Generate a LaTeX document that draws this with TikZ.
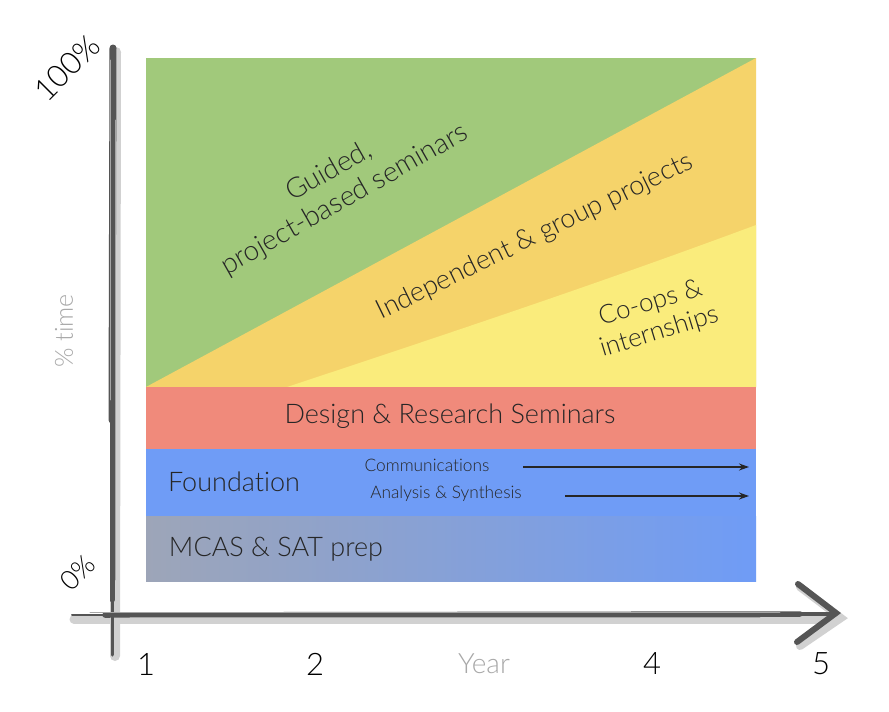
\documentclass[tikz,border=0pt]{standalone}
\usepackage{fontspec}
\IfFontExistsTF{Lato Light}{\setmainfont{Lato Light}[Ligatures={NoCommon,NoDiscretionary}]}{\setmainfont{Lato}}
\usetikzlibrary{arrows.meta}
\definecolor{bandgreen}{HTML}{A1C97B}
\definecolor{bandorange}{HTML}{F5D36A}
\definecolor{bandyellow}{HTML}{FAEC7C}
\definecolor{bandred}{HTML}{F08A7B}
\definecolor{bandblue}{HTML}{6F9CF6}
\definecolor{bandgray}{HTML}{9DA5B8}
\definecolor{ink}{HTML}{262626}
\definecolor{brush}{HTML}{555555}
\definecolor{axislabel}{HTML}{A8A8A8}
\tikzset{
  lbl/.style={text=ink, inner sep=0pt, font=\fontsize{26}{30}\selectfont},
  big/.style={lbl, font=\fontsize{27}{32}\selectfont},
  small/.style={lbl, font=\fontsize{17.3}{20}\selectfont},
  tick/.style={text=black, inner sep=0pt, font=\fontsize{31}{34}\selectfont},
  flow/.style={draw=ink, line width=1.6pt, -{Stealth[length=10pt,width=7pt]}},
  brushshadow/.style={draw=black!18, line cap=round},
  brushstroke/.style={draw=brush, line cap=round},
  brushgrain/.style={draw=black!35, line cap=round, line width=0.8pt},
}
\begin{document}
\begin{tikzpicture}[x=1pt,y=-1pt]
\path[use as bounding box, fill=white] (0,0) rectangle (889,712);

% ---- stacked bands ----
\fill[bandgreen] (146,58) rectangle (756,387);
\fill[bandorange] (146,387) -- (756,58) -- (756,387) -- cycle;
\fill[bandyellow] (287,387) .. controls (450,333) and (600,283) .. (756,225) -- (756,387) -- cycle;
\fill[bandred] (146,387) rectangle (756,449);
\fill[bandblue] (146,449) rectangle (756,516);
\shade[left color=bandgray, right color=bandblue] (146,516) rectangle (756,581);

% ---- brush-stroke axes ----
\draw[brushshadow, line width=10pt] (116,52) -- (115,656);
\draw[brushshadow, line width=9pt] (74,619) -- (835,619);
\draw[brushshadow, line width=8pt] (800,587) -- (841,618) -- (800,646);
\draw[brushstroke, line width=7pt] (113,48) -- (112,420);
\draw[brushstroke, line width=5pt] (112,420) -- (112,600);
\draw[brushstroke, line width=3pt] (112,600) -- (112,655);
\draw[brushstroke, line width=2pt] (72,615) -- (110,615);
\draw[brushstroke, line width=5.5pt] (105,615) -- (800,614);
\draw[brushstroke, line width=4pt] (790,614) -- (836,614);
\draw[brushstroke, line width=6pt] (798,584) -- (836,613) -- (797,642);
\draw[brushgrain] (110,60) -- (110,400);
\draw[brushgrain] (115,120) -- (115,580);
\draw[brushgrain] (90,612) -- (780,612);
\draw[brushgrain] (130,617) -- (760,617);

% ---- axis labels ----
\node[tick, rotate=45] (top) at (67,68) {100\%};
\node[tick, rotate=45, font=\fontsize{27}{30}\selectfont] (bottom) at (78,573) {0\%};
\node[tick, rotate=90, text=axislabel, font=\fontsize{25}{30}\selectfont] (ylab) at (64,331) {\% time};
\node[tick] (y1) at (146,664) {1};
\node[tick] (y2) at (315,664) {2};
\node[tick, text=axislabel, font=\fontsize{28}{32}\selectfont] (xlab) at (484,664) {Year};
\node[tick] (y4) at (652,664) {4};
\node[tick] (y5) at (821,664) {5};

% ---- band labels ----
\node[lbl, rotate=29.5, align=center, font=\fontsize{28}{32}\selectfont] (guided) at (337,186) {Guided,\\project-based seminars};
\node[lbl, rotate=26, font=\fontsize{27}{30}\selectfont] (indep) at (535,237) {Independent \& group projects};
\node[lbl, rotate=17, align=center] (coops) at (655,318) {Co-ops \&\\internships};
\node[big] (design) at (450,416) {Design \& Research Seminars};
\node[big] (found) at (234,482) {Foundation};
\node[big] (mcas) at (276,549) {MCAS \& SAT prep};
\node[small] (comm) at (427,465) {Communications};
\node[small] (anal) at (446,494) {Analysis \& Synthesis};

% ---- foundation threads ----
\coordinate (commfrom) at (523,467);
\coordinate (commto) at (749,467);
\coordinate (analfrom) at (565,496);
\coordinate (analto) at (749,496);
\draw[flow] (commfrom) -- (commto);
\draw[flow] (analfrom) -- (analto);
\end{tikzpicture}
\end{document}
